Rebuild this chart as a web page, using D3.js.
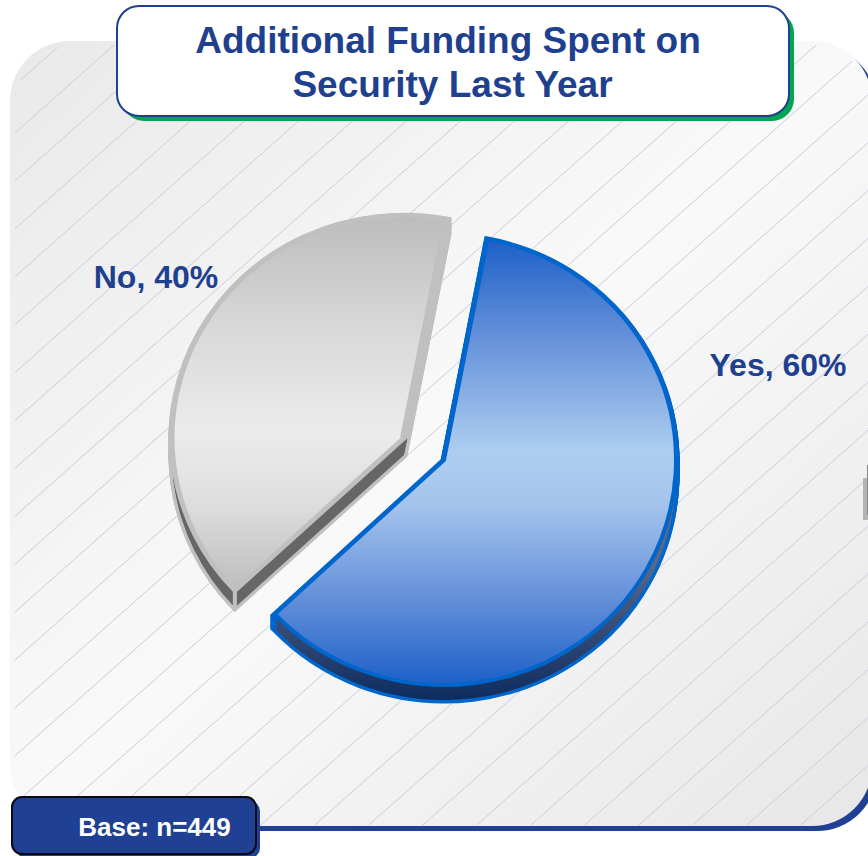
<!DOCTYPE html>
<html>
<head>
<meta charset="utf-8">
<script src="https://cdn.jsdelivr.net/npm/d3@7"></script>
<style>html,body{margin:0;padding:0;background:#fff}svg{display:block}text{font-family:"Liberation Sans",Arial,sans-serif;font-weight:bold}</style>
</head>
<body>
<div id="chart"></div>
<script>
const categories = ["Yes", "No"];
const values = [60, 40];
const titleLines = ["Additional Funding Spent on", "Security Last Year"];
const baseNote = "Base: n=449";

const W = 868, H = 856, navy = "#1f3f8f";
const svg = d3.select("#chart").append("svg").attr("width", W).attr("height", H);
const defs = svg.append("defs");

function grad(id, stops, x2, y2) {
  const g = defs.append("linearGradient").attr("id", id)
    .attr("x1", 0).attr("y1", 0).attr("x2", x2).attr("y2", y2);
  stops.forEach(([o, c]) => g.append("stop").attr("offset", o).attr("stop-color", c));
}
grad("panelG", [[0, "#e9e9e9"], [0.5, "#f9f9fa"], [1, "#e7e7e7"]], 1, 1);
grad("blueFace", [[0, "#1c60c8"], [0.2, "#5f8cd8"], [0.48, "#aecef0"], [0.6, "#a3c3ec"], [0.82, "#5f8cd8"], [1, "#1c60c8"]], 0, 1);
grad("greyFace", [[0, "#bcbcbc"], [0.3, "#d8d8d8"], [0.58, "#ececec"], [0.78, "#dcdcdc"], [1, "#bdbdbd"]], 0, 1);
grad("blueWall", [[0.7, "#56688c"], [1, "#0e2c60"]], 0, 1);

// panel
const panel = {x: 10, y: 41, w: 862, h: 785, r: 60};
svg.append("rect").attr("x", panel.x + 5).attr("y", panel.y + 5)
  .attr("width", panel.w).attr("height", panel.h).attr("rx", panel.r).attr("fill", "#1f4093");
svg.append("rect").attr("x", panel.x).attr("y", panel.y)
  .attr("width", panel.w).attr("height", panel.h).attr("rx", panel.r).attr("fill", "url(#panelG)");

// hatching
defs.append("clipPath").attr("id", "hatchClip").append("rect")
  .attr("x", panel.x + 5).attr("y", panel.y + 4).attr("width", panel.w - 5).attr("height", panel.h - 5).attr("rx", panel.r);
const slope = 0.887;
svg.append("g").attr("clip-path", "url(#hatchClip)")
  .selectAll("line").data(d3.range(-10, 36)).join("line")
  .attr("x1", i => 15 + i * 54 - 900).attr("y1", 133 + 900 * slope)
  .attr("x2", i => 15 + i * 54 + 900).attr("y2", 133 - 900 * slope)
  .attr("stroke", "#c9cce2").attr("stroke-width", 1);

// clipped object on right edge
svg.append("rect").attr("x", 863).attr("y", 478).attr("width", 6).attr("height", 42).attr("fill", "#b3b3b3");
svg.append("rect").attr("x", 867).attr("y", 465).attr("width", 2).attr("height", 50).attr("fill", "#8a8a8a");

// pie
const startDeg = 10.8;
const pie = d3.pie().sort(null).startAngle(startDeg * Math.PI / 180).endAngle((startDeg + 360) * Math.PI / 180);
const rScale = d3.scaleLinear().domain([0, 1]).range([0, 232]);
const arc = d3.arc().innerRadius(0).outerRadius(rScale(1));
const arcs = pie(values);
const looks = [
  {c: [444, 460], ry: 0.97, depth: 15, wall: "url(#blueWall)", wallSolid: "#3a4f7c", face: "url(#blueFace)", stroke: "#0066cc", sw: 4, wallSw: 7},
  {c: [404, 438], ry: 0.96, depth: 17, wall: "#666666", wallSolid: "#666666", face: "url(#greyFace)", stroke: "#c0c0c0", sw: 5, wallSw: 7}
];
const pieG = svg.append("g");
arcs.forEach((a, i) => {
  const l = looks[i];
  const steps = d3.range(1, l.depth + 1);
  const place = k => `translate(${l.c[0]},${l.c[1] + k}) scale(1,${l.ry})`;
  const d = arc(a);
  const rimPoint = ang => [l.c[0] + rScale(1) * Math.sin(ang), l.c[1] - rScale(1) * Math.cos(ang) * l.ry];
  // extruded side: outline of every slice of the depth, then their fill
  pieG.append("g").selectAll("path").data(steps).join("path")
    .attr("d", d).attr("transform", place)
    .attr("fill", "none").attr("stroke", l.stroke).attr("stroke-width", l.wallSw);
  pieG.append("g").selectAll("path").data(steps.slice(0, -1)).join("path")
    .attr("d", d).attr("transform", place).attr("fill", l.wallSolid);
  pieG.append("path").attr("d", d).attr("transform", place(l.depth)).attr("fill", l.wall);
  // vertical edge at the lower-left corner, where the two sides of the slice meet
  const corner = rimPoint(i === 0 ? a.endAngle : a.startAngle);
  pieG.append("line")
    .attr("x1", corner[0]).attr("x2", corner[0])
    .attr("y1", corner[1]).attr("y2", corner[1] + l.depth)
    .attr("stroke", l.stroke).attr("stroke-width", i === 0 ? 3 : 4);
  pieG.append("path").attr("d", d).attr("transform", place(0))
    .attr("fill", l.face).attr("stroke", l.stroke).attr("stroke-width", l.sw).attr("stroke-linejoin", "miter");
  // light bevel along the grey slice's upper radial edge
  if (i === 1) {
    const rim = rimPoint(a.endAngle);
    pieG.append("line")
      .attr("x1", l.c[0]).attr("y1", l.c[1]).attr("x2", rim[0]).attr("y2", rim[1])
      .attr("stroke", l.stroke).attr("stroke-width", 8);
  }
});

// labels
const labelPos = [[778, 376], [156, 288]];
svg.append("g").selectAll("text").data(categories).join("text")
  .attr("x", (d, i) => labelPos[i][0]).attr("y", (d, i) => labelPos[i][1])
  .attr("text-anchor", "middle").attr("font-size", 32).attr("fill", navy)
  .text((d, i) => `${d}, ${values[i]}%`);

// title box
svg.append("rect").attr("x", 122).attr("y", 11).attr("width", 672).attr("height", 110).attr("rx", 22).attr("fill", "#00a651");
svg.append("rect").attr("x", 117).attr("y", 6).attr("width", 672).attr("height", 110).attr("rx", 22)
  .attr("fill", "#fff").attr("stroke", navy).attr("stroke-width", 2);
const titleX = [448, 452.5], titleY = [53, 97];
svg.append("g").selectAll("text").data(titleLines).join("text")
  .attr("x", (d, i) => titleX[i]).attr("y", (d, i) => titleY[i])
  .attr("text-anchor", "middle").attr("font-size", 37).attr("fill", navy).text(d => d);

// base box
svg.append("rect").attr("x", 16).attr("y", 801).attr("width", 244).attr("height", 57).attr("rx", 10).attr("fill", "#1f4093");
svg.append("rect").attr("x", 12).attr("y", 797).attr("width", 244).attr("height", 57).attr("rx", 10)
  .attr("fill", "#1f4093").attr("stroke", "#0a0a14").attr("stroke-width", 2);
svg.append("text").attr("x", 154.5).attr("y", 836).attr("text-anchor", "middle")
  .attr("font-size", 26).attr("fill", "#fff").text(baseNote);
</script>
</body>
</html>
